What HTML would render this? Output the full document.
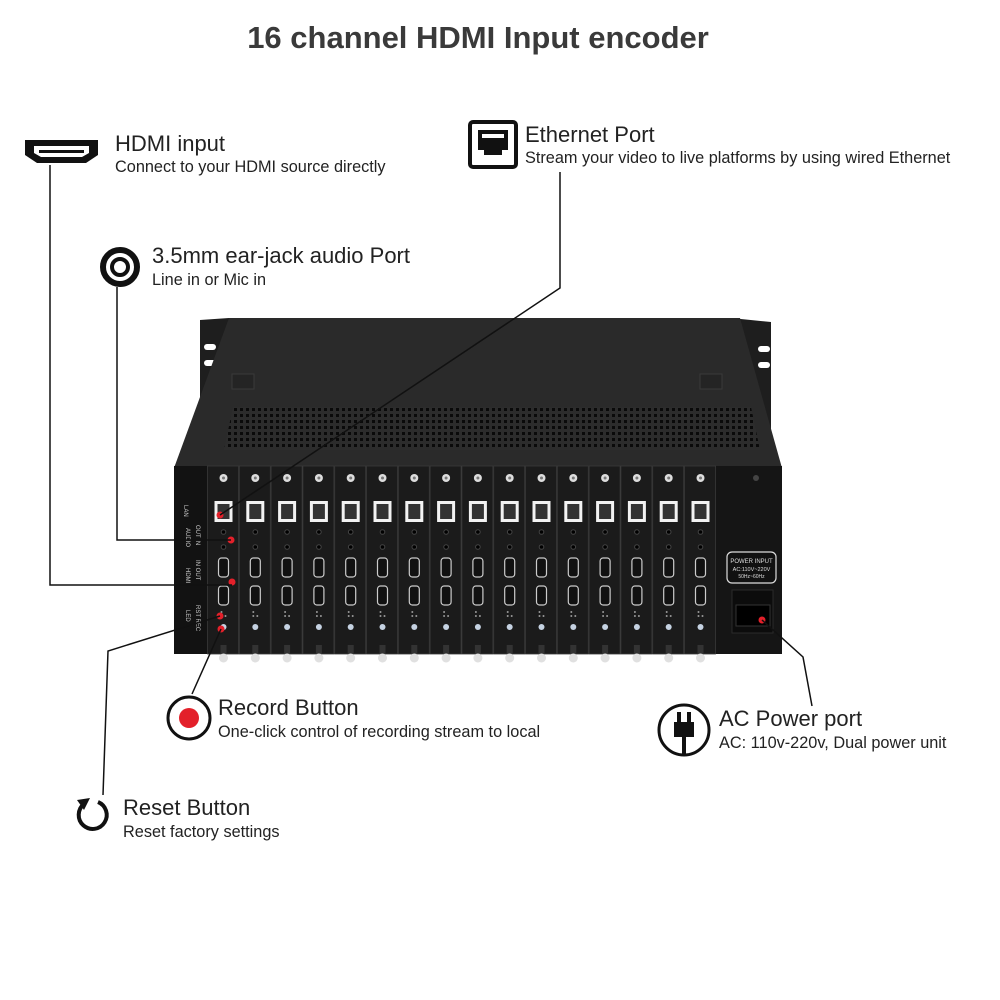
<!DOCTYPE html>
<html><head><meta charset="utf-8"><style>
html,body{margin:0;padding:0;background:#fff;}
svg{display:block;}
text{font-family:"Liberation Sans","DejaVu Sans",sans-serif;}
</style></head><body>
<svg width="1000" height="1000" viewBox="0 0 1000 1000" xmlns="http://www.w3.org/2000/svg">
<defs>
<pattern id="grille" x="233" y="407" width="6" height="6" patternUnits="userSpaceOnUse">
<rect width="6" height="6" fill="#2c2c2c"/><rect x="1" y="1" width="3" height="3" fill="#0a0a0a"/>
</pattern>
<g id="card">
<rect x="0" y="466" width="31" height="188" fill="#1b1b1b" stroke="#3a3a3a" stroke-width="0.8"/>
<circle cx="16" cy="478" r="4" fill="#ddd"/><circle cx="16" cy="478" r="1.5" fill="#777"/>
<rect x="7" y="501" width="18" height="21" fill="#f2f2f2"/><rect x="10" y="504" width="12" height="15" fill="#333"/>
<circle cx="16" cy="532" r="2.3" fill="#000" stroke="#444"/><circle cx="16" cy="547" r="2.3" fill="#000" stroke="#444"/>
<rect x="11" y="558" width="10" height="19" rx="3" fill="#111" stroke="#ccc" stroke-width="1.2"/>
<rect x="11" y="586" width="10" height="19" rx="3" fill="#111" stroke="#ccc" stroke-width="1.2"/>
<circle cx="14" cy="612" r="1" fill="#999"/><circle cx="14" cy="616" r="1" fill="#999"/><circle cx="18" cy="616" r="1" fill="#999"/>
<circle cx="16" cy="627" r="3" fill="#c5d2e2"/>
<rect x="13" y="645" width="6" height="9" fill="#333"/>
<circle cx="16" cy="658" r="4.5" fill="#e0e0e0"/>
</g>
</defs>
<text x="478" y="48" text-anchor="middle" font-size="31" font-weight="bold" fill="#3a3a3a">16 channel HDMI Input encoder</text>

<!-- rack ears -->
<path d="M200 320 L229 318 L229 470 L200 470 Z" fill="#1e1e1e"/>
<rect x="204" y="344" width="12" height="6" rx="3" fill="#fff"/>
<rect x="204" y="360" width="12" height="6" rx="3" fill="#fff"/>
<path d="M731 318 L771 322 L771 470 L731 470 Z" fill="#1e1e1e"/>
<rect x="758" y="346" width="12" height="6" rx="3" fill="#fff"/>
<rect x="758" y="362" width="12" height="6" rx="3" fill="#fff"/>
<!-- top cover -->
<path d="M229 318 L740 318 L782 468 L174 468 Z" fill="#2a2a2a"/>
<path d="M233 407 L751 407 L760 450 L224 450 Z" fill="url(#grille)"/>
<rect x="232" y="374" width="22" height="15" fill="#242424" stroke="#3a3a3a"/>
<rect x="700" y="374" width="22" height="15" fill="#242424" stroke="#3a3a3a"/>
<!-- front panel -->
<rect x="174" y="466" width="608" height="188" fill="#151515"/>
<rect x="174" y="466" width="33" height="188" fill="#121212"/>
<text transform="translate(184,505) rotate(90)" font-size="6" fill="#ccc">LAN</text>
<text transform="translate(196,525) rotate(90)" font-size="6" fill="#ccc">OUT  IN</text>
<text transform="translate(186,528) rotate(90)" font-size="6" fill="#ccc">AUDIO</text>
<text transform="translate(196,560) rotate(90)" font-size="6" fill="#ccc">IN   OUT</text>
<text transform="translate(186,568) rotate(90)" font-size="6" fill="#ccc">HDMI</text>
<text transform="translate(196,605) rotate(90)" font-size="6" fill="#ccc">RST REC</text>
<text transform="translate(186,610) rotate(90)" font-size="6" fill="#ccc">LED</text>
<use href="#card" x="207.5"/>
<use href="#card" x="239.3"/>
<use href="#card" x="271.1"/>
<use href="#card" x="302.9"/>
<use href="#card" x="334.7"/>
<use href="#card" x="366.5"/>
<use href="#card" x="398.3"/>
<use href="#card" x="430.1"/>
<use href="#card" x="461.9"/>
<use href="#card" x="493.7"/>
<use href="#card" x="525.5"/>
<use href="#card" x="557.3"/>
<use href="#card" x="589.1"/>
<use href="#card" x="620.9"/>
<use href="#card" x="652.7"/>
<use href="#card" x="684.5"/>
<!-- power section -->
<rect x="727" y="552" width="49" height="31" rx="5" fill="#111" stroke="#ddd" stroke-width="1.2"/>
<text x="751.5" y="563" text-anchor="middle" font-size="6" fill="#ddd">POWER INPUT</text>
<text x="751.5" y="571" text-anchor="middle" font-size="5.5" fill="#ddd">AC:110V~220V</text>
<text x="751.5" y="578" text-anchor="middle" font-size="5" fill="#ddd">50Hz~60Hz</text>
<rect x="732" y="590" width="41" height="43" fill="#0c0c0c" stroke="#2a2a2a"/>
<rect x="736" y="605" width="34" height="21" fill="#000" stroke="#333"/>
<circle cx="762" cy="620" r="3.5" fill="#e3202a"/>
<circle cx="756" cy="478" r="3" fill="#444"/>

<!-- red dots -->
<circle cx="220" cy="515" r="3.5" fill="#e3202a"/>
<circle cx="231" cy="540" r="3.5" fill="#e3202a"/>
<circle cx="232" cy="582" r="3.5" fill="#e3202a"/>
<circle cx="220" cy="616" r="3.5" fill="#e3202a"/>
<circle cx="221" cy="629" r="3.5" fill="#e3202a"/>

<!-- connector lines -->
<g fill="none" stroke="#111" stroke-width="1.5">
<polyline points="50,165 50,585 232,585"/>
<polyline points="117,287 117,540 231,540"/>
<polyline points="560,172 560,288 220,515"/>
<polyline points="220,616 108,651 103,795"/>
<polyline points="221,629 192,694"/>
<polyline points="762,620 803,657 812,706"/>
</g>

<!-- HDMI icon -->
<path d="M25 140 L98 140 L98 155 L86 163 L37 163 L25 155 Z" fill="#111"/>
<path d="M34 146 L89 146 L89 153 L82 157 L41 157 L34 153 Z" fill="#fff"/>
<rect x="39" y="150" width="45" height="3" fill="#111"/>
<text x="115" y="151" font-size="22" fill="#222">HDMI input</text>
<text x="115" y="172" font-size="16.3" fill="#222">Connect to your HDMI source directly</text>

<!-- audio icon -->
<circle cx="120" cy="267" r="17" fill="none" stroke="#111" stroke-width="6"/>
<circle cx="120" cy="267" r="8" fill="none" stroke="#111" stroke-width="4"/>
<text x="152" y="263" font-size="22" fill="#222">3.5mm ear-jack audio Port</text>
<text x="152" y="285" font-size="16.3" fill="#222">Line in or Mic in</text>

<!-- ethernet icon -->
<rect x="470" y="122" width="46" height="45" rx="3" fill="none" stroke="#111" stroke-width="4"/>
<path d="M478 130 L508 130 L508 150 L502 150 L502 155 L484 155 L484 150 L478 150 Z" fill="#111"/>
<rect x="482" y="134" width="22" height="4" fill="#fff"/>
<text x="525" y="142" font-size="22" fill="#222">Ethernet Port</text>
<text x="525" y="163" font-size="16.3" fill="#222">Stream your video to live platforms by using wired Ethernet</text>

<!-- record -->
<circle cx="189" cy="718" r="21" fill="none" stroke="#111" stroke-width="3"/>
<circle cx="189" cy="718" r="10" fill="#e3202a"/>
<text x="218" y="715" font-size="22" fill="#222">Record Button</text>
<text x="218" y="737" font-size="16.3" fill="#222">One-click control of recording stream to local</text>

<!-- reset -->
<path d="M84 804 A14 14 0 1 0 98 802" fill="none" stroke="#111" stroke-width="4"/>
<path d="M77 800 L90 798 L84 810 Z" fill="#111"/>
<text x="123" y="815" font-size="22" fill="#222">Reset Button</text>
<text x="123" y="837" font-size="16.3" fill="#222">Reset factory settings</text>

<!-- power -->
<circle cx="684" cy="730" r="25" fill="none" stroke="#111" stroke-width="3"/>
<rect x="674" y="722" width="20" height="15" fill="#111"/>
<rect x="677" y="712" width="4" height="10" fill="#111"/>
<rect x="687" y="712" width="4" height="10" fill="#111"/>
<path d="M684 737 L684 755" stroke="#111" stroke-width="4"/>
<text x="719" y="726" font-size="22" fill="#222">AC Power port</text>
<text x="719" y="748" font-size="16.3" fill="#222">AC: 110v-220v, Dual power unit</text>
</svg>
</body></html>
